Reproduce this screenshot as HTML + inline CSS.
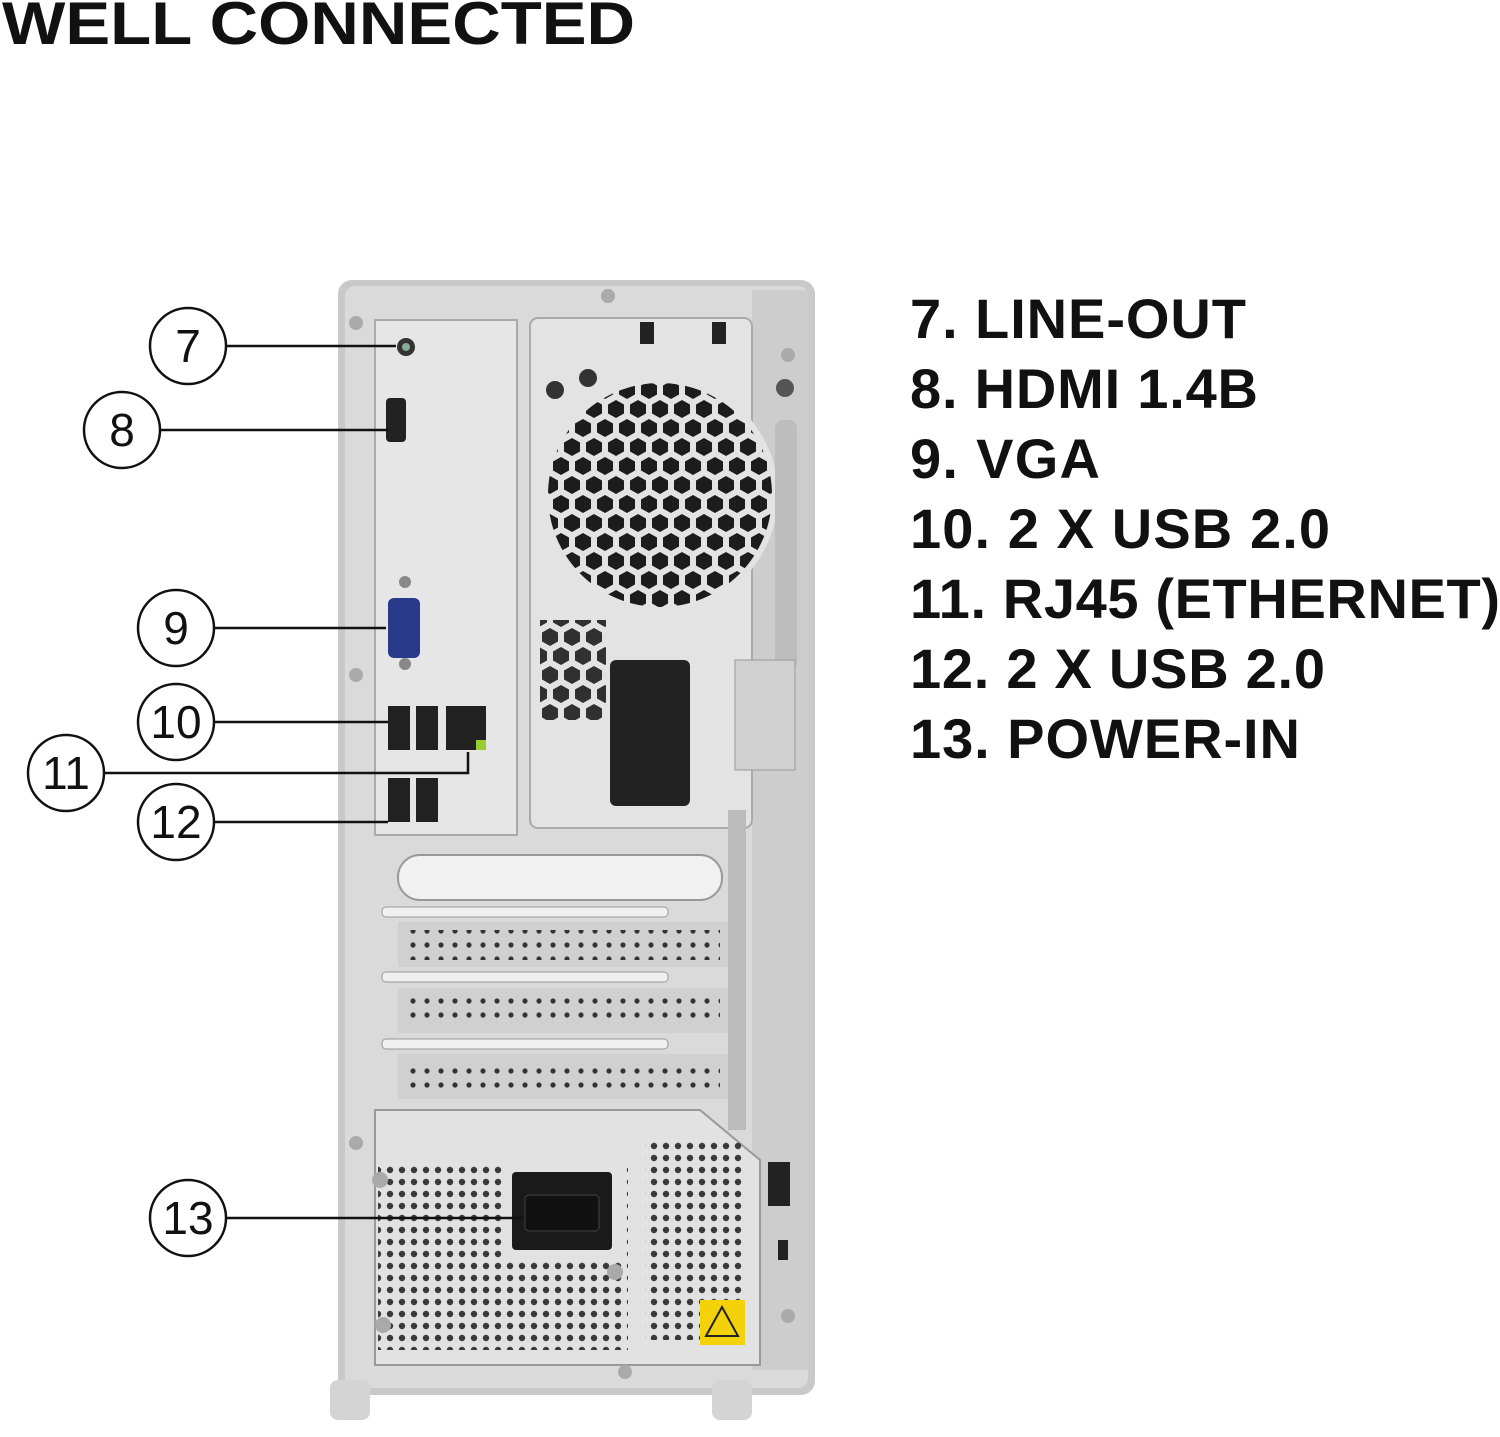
<!DOCTYPE html>
<html><head><meta charset="utf-8"><style>
html,body{margin:0;padding:0;background:#fff;width:1500px;height:1437px;overflow:hidden}
svg{display:block}
</style></head><body>
<svg width="1500" height="1437" viewBox="0 0 1500 1437" xmlns="http://www.w3.org/2000/svg">
<defs>
<pattern id="hex" width="22" height="38" patternUnits="userSpaceOnUse">
<polygon points="11,1 19,5.5 19,14.5 11,19 3,14.5 3,5.5" fill="#1c1c1c"/>
<polygon points="0,20 8,24.5 8,33.5 0,38 -8,33.5 -8,24.5" fill="#1c1c1c"/>
<polygon points="22,20 30,24.5 30,33.5 22,38 14,33.5 14,24.5" fill="#1c1c1c"/>
</pattern>
<pattern id="dots" width="12" height="12" patternUnits="userSpaceOnUse">
<circle cx="6" cy="6" r="3.2" fill="#3a3a3a"/>
</pattern>
<pattern id="sdots" width="14" height="14" patternUnits="userSpaceOnUse">
<circle cx="7" cy="7" r="2.6" fill="#333"/>
</pattern>
<clipPath id="fanc"><circle cx="660" cy="495" r="112"/></clipPath>
</defs>

<text x="2" y="44" font-family="Liberation Sans, sans-serif" font-weight="bold" font-size="60" textLength="633" lengthAdjust="spacingAndGlyphs" fill="#111">WELL CONNECTED</text>

<g font-family="Liberation Sans, sans-serif" font-weight="bold" font-size="56" fill="#111" lengthAdjust="spacingAndGlyphs">
<text x="910" y="338" textLength="336">7. LINE-OUT</text>
<text x="910" y="408" textLength="348">8. HDMI 1.4B</text>
<text x="910" y="478" textLength="190">9. VGA</text>
<text x="910" y="548" textLength="420">10. 2 X USB 2.0</text>
<text x="910" y="618" textLength="590">11. RJ45 (ETHERNET)</text>
<text x="910" y="688" textLength="415">12. 2 X USB 2.0</text>
<text x="910" y="758" textLength="390">13. POWER-IN</text>
</g>

<rect x="338" y="280" width="477" height="1115" rx="14" fill="#c9c9c9"/>
<rect x="345" y="286" width="463" height="1102" rx="10" fill="#dadada"/>
<rect x="330" y="1380" width="40" height="40" rx="8" fill="#d4d4d4"/>
<rect x="712" y="1380" width="40" height="40" rx="8" fill="#d4d4d4"/>
<rect x="752" y="290" width="56" height="1080" fill="#cdcdcd"/>
<rect x="375" y="320" width="142" height="515" fill="#e6e6e6" stroke="#aaa" stroke-width="2"/>
<rect x="530" y="318" width="222" height="510" rx="8" fill="#e3e3e3" stroke="#aaa" stroke-width="2"/>
<circle cx="660" cy="495" r="118" fill="#e3e3e3"/>
<rect x="540" y="380" width="250" height="240" fill="url(#hex)" clip-path="url(#fanc)"/>
<rect x="540" y="620" width="66" height="100" fill="url(#hex)" opacity=".9"/>
<rect x="610" y="660" width="80" height="146" rx="6" fill="#222"/>
<rect x="640" y="322" width="14" height="22" fill="#222"/>
<rect x="712" y="322" width="14" height="22" fill="#222"/>
<circle cx="555" cy="390" r="9" fill="#333"/><circle cx="588" cy="378" r="9" fill="#333"/>
<circle cx="785" cy="388" r="9" fill="#555"/>
<rect x="775" y="420" width="22" height="250" rx="8" fill="#bdbdbd"/>
<rect x="735" y="660" width="60" height="110" fill="#d0d0d0" stroke="#999"/>
<circle cx="406" cy="347" r="9" fill="#333"/><circle cx="406" cy="347" r="4" fill="#8a9"/>
<rect x="386" y="398" width="20" height="44" rx="4" fill="#222"/>
<rect x="388" y="598" width="32" height="60" rx="6" fill="#2a3a8a"/>
<circle cx="405" cy="582" r="6" fill="#888"/><circle cx="405" cy="664" r="6" fill="#888"/>
<rect x="388" y="706" width="22" height="44" fill="#222"/><rect x="416" y="706" width="22" height="44" fill="#222"/>
<rect x="446" y="706" width="40" height="44" fill="#222"/><rect x="476" y="740" width="10" height="10" fill="#9c3"/>
<rect x="388" y="778" width="22" height="44" fill="#222"/><rect x="416" y="778" width="22" height="44" fill="#222"/>
<rect x="398" y="855" width="324" height="45" rx="22" fill="#f1f1f1" stroke="#999" stroke-width="2"/>
<g fill="#f0f0f0" stroke="#999">
<rect x="382" y="907" width="286" height="10" rx="4"/>
<rect x="382" y="972" width="286" height="10" rx="4"/>
<rect x="382" y="1039" width="286" height="10" rx="4"/>
</g>
<g fill="#d0d0d0"><rect x="398" y="922" width="330" height="45"/><rect x="398" y="988" width="330" height="45"/><rect x="398" y="1054" width="330" height="45"/></g>
<rect x="410" y="930" width="310" height="30" fill="url(#sdots)"/>
<rect x="410" y="996" width="310" height="30" fill="url(#sdots)"/>
<rect x="410" y="1062" width="310" height="30" fill="url(#sdots)"/>
<rect x="728" y="810" width="18" height="320" fill="#bbb"/>
<path d="M375 1110 H700 L760 1160 V1365 H375 Z" fill="#e2e2e2" stroke="#999" stroke-width="2"/>
<rect x="378" y="1165" width="250" height="185" fill="url(#dots)"/>
<rect x="645" y="1140" width="100" height="200" fill="url(#dots)"/>
<rect x="505" y="1165" width="120" height="95" fill="#e2e2e2"/>
<rect x="512" y="1172" width="100" height="78" rx="4" fill="#1a1a1a"/>
<rect x="525" y="1195" width="74" height="36" rx="4" fill="#111" stroke="#444"/>
<rect x="700" y="1300" width="45" height="45" fill="#f3d20a"/>
<polygon points="722,1307 738,1336 706,1336" fill="none" stroke="#222" stroke-width="2"/>
<rect x="768" y="1162" width="22" height="44" fill="#222"/>
<rect x="778" y="1240" width="10" height="20" fill="#222"/>
<g fill="#aaa"><circle cx="356" cy="323" r="7"/><circle cx="608" cy="296" r="7"/><circle cx="788" cy="355" r="7"/><circle cx="356" cy="1143" r="7"/><circle cx="380" cy="1180" r="8"/><circle cx="615" cy="1272" r="8"/><circle cx="788" cy="1316" r="7"/><circle cx="383" cy="1325" r="8"/><circle cx="625" cy="1372" r="7"/><circle cx="356" cy="675" r="7"/></g>

<g fill="#fff" stroke="#111" stroke-width="2.5">
<line x1="226" y1="346" x2="396" y2="346"/>
<line x1="160" y1="430" x2="388" y2="430"/>
<line x1="214" y1="628" x2="386" y2="628"/>
<line x1="214" y1="722" x2="388" y2="722"/>
<path d="M104 773 H468 V752" fill="none"/>
<line x1="214" y1="822" x2="388" y2="822"/>
<line x1="226" y1="1218" x2="522" y2="1218"/>
<circle cx="188" cy="346" r="38"/><circle cx="122" cy="430" r="38"/>
<circle cx="176" cy="628" r="38"/><circle cx="176" cy="722" r="38"/>
<circle cx="66" cy="773" r="38"/><circle cx="176" cy="822" r="38"/>
<circle cx="188" cy="1218" r="38"/>
</g>
<g font-family="Liberation Sans, sans-serif" font-size="46" fill="#111" text-anchor="middle">
<text x="188" y="362">7</text><text x="122" y="446">8</text><text x="176" y="644">9</text>
<text x="176" y="738">10</text><text x="66" y="789">11</text><text x="176" y="838">12</text><text x="188" y="1234">13</text>
</g>
</svg>
</body></html>
